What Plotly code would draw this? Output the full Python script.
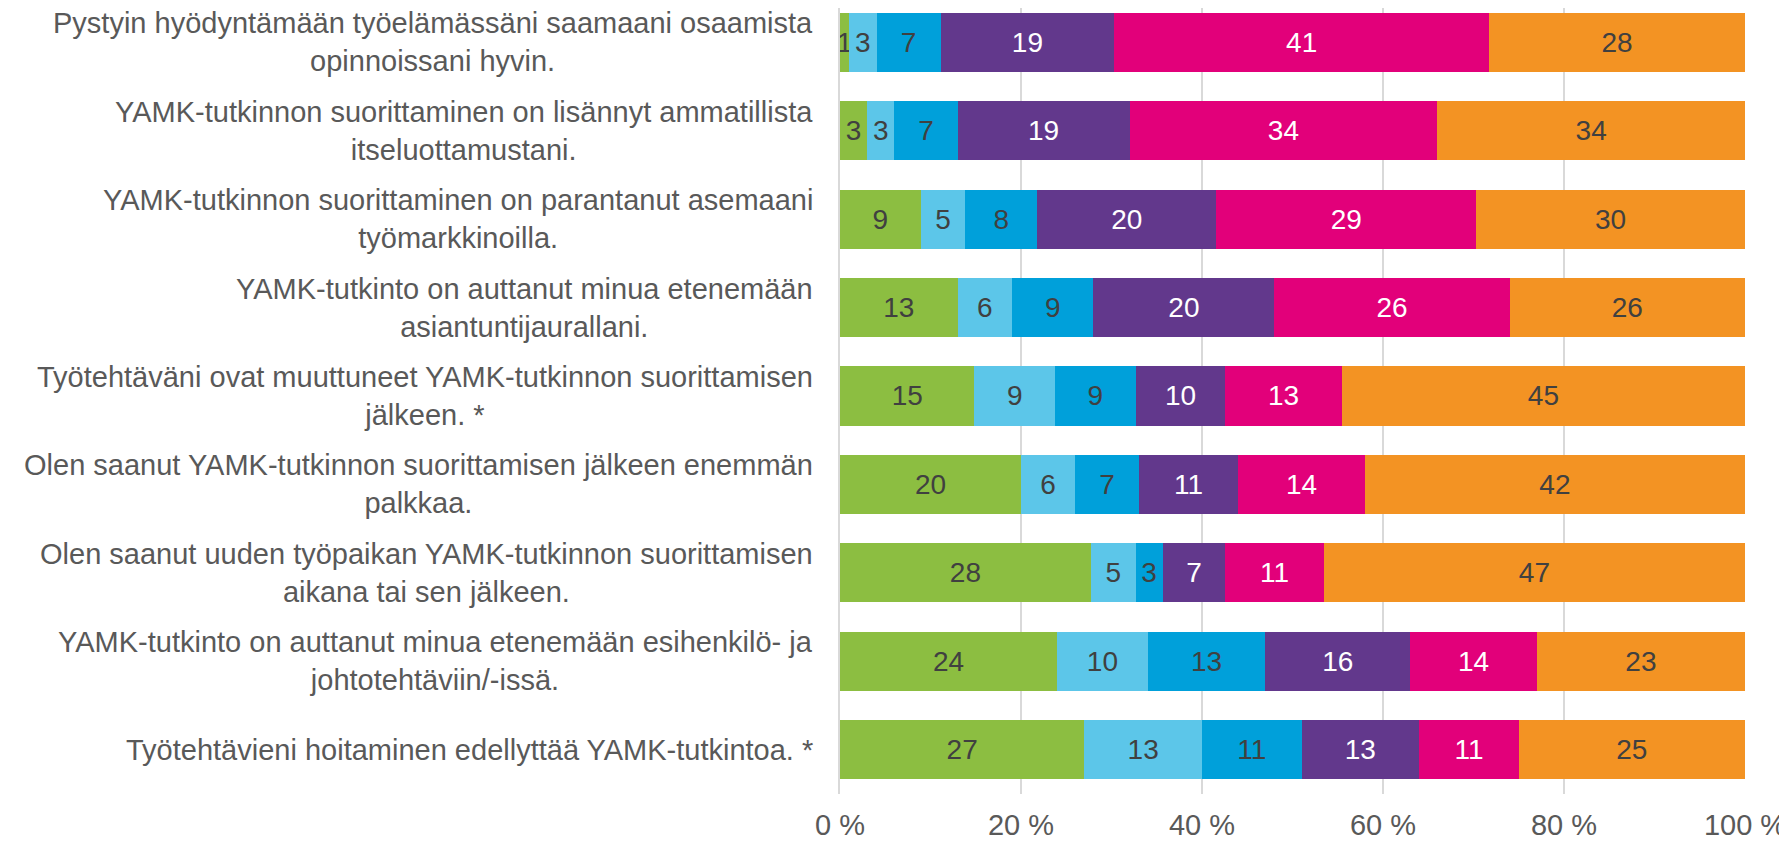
import plotly.graph_objects as go

# statements, top to bottom as drawn
statements = [
    'Pystyin hyödyntämään työelämässäni saamaani osaamista<br>opinnoissani hyvin.',
    'YAMK-tutkinnon suorittaminen on lisännyt ammatillista<br>itseluottamustani.',
    'YAMK-tutkinnon suorittaminen on parantanut asemaani<br>työmarkkinoilla.',
    'YAMK-tutkinto on auttanut minua etenemään<br>asiantuntijaurallani.',
    'Työtehtäväni ovat muuttuneet YAMK-tutkinnon suorittamisen<br>jälkeen. *',
    'Olen saanut YAMK-tutkinnon suorittamisen jälkeen enemmän<br>palkkaa.',
    'Olen saanut uuden työpaikan YAMK-tutkinnon suorittamisen<br>aikana tai sen jälkeen.',
    'YAMK-tutkinto on auttanut minua etenemään esihenkilö- ja<br>johtotehtäviin/-issä.',
    'Työtehtävieni hoitaminen edellyttää YAMK-tutkintoa. *',
]

# answer shares (%) per response option, same order as statements
s1 = [1, 3, 9, 13, 15, 20, 28, 24, 27]
s2 = [3, 3, 5, 6, 9, 6, 5, 10, 13]
s3 = [7, 7, 8, 9, 9, 7, 3, 13, 11]
s4 = [19, 19, 20, 20, 10, 11, 7, 16, 13]
s5 = [41, 34, 29, 26, 13, 14, 11, 14, 11]
s6 = [28, 34, 30, 26, 45, 42, 47, 23, 25]

tick_vals = [0, 20, 40, 60, 80, 100]
tick_text = ['0 %', '20 %', '40 %', '60 %', '80 %', '100 %']

series = [s1, s2, s3, s4, s5, s6]
colors = ['#8CBE41', '#5CC6E9', '#00A0DA', '#62388C', '#E2007A', '#F39323']
text_colors = ['#404040', '#404040', '#404040', '#FFFFFF', '#FFFFFF', '#404040']

font = 'Liberation Sans, Arial, sans-serif'
cats = list(range(len(statements)))

fig = go.Figure()
for vals, col, tcol in zip(series, colors, text_colors):
    fig.add_trace(go.Bar(
        y=cats, x=vals, orientation='h',
        marker=dict(color=col, line=dict(width=0)),
        text=[str(v) for v in vals],
        textposition='inside', insidetextanchor='middle',
        textangle=0, constraintext='none',
        textfont=dict(family=font, size=28, color=tcol),
        hoverinfo='skip', showlegend=False,
    ))

for i, s in enumerate(statements):
    fig.add_annotation(
        x=0, xref='paper', xanchor='right', xshift=-25,
        y=i, yref='y', yanchor='middle',
        text=s, align='center', showarrow=False,
        font=dict(family=font, size=29, color='#595959'),
    )

# page body has an 8px margin, so the figure is a bit smaller than the window
fig.update_layout(
    barmode='stack', barnorm='percent', bargap=0.332,
    width=1779, height=834,
    margin=dict(l=832, r=42, t=0, b=48),
    plot_bgcolor='white', paper_bgcolor='white',
    font=dict(family=font),
)
fig.update_xaxes(
    range=[0, 100], tickvals=tick_vals, ticktext=tick_text,
    showgrid=True, gridcolor='#D9D9D9', gridwidth=2,
    zeroline=False, showline=False,
    tickfont=dict(family=font, size=29, color='#595959'),
    ticklabelstandoff=11,
)
fig.update_yaxes(
    range=[8.5035, -0.39], showticklabels=False,
    showgrid=False, zeroline=False,
    showline=True, linecolor='#D9D9D9', linewidth=2,
)

fig.write_html('out.html')
